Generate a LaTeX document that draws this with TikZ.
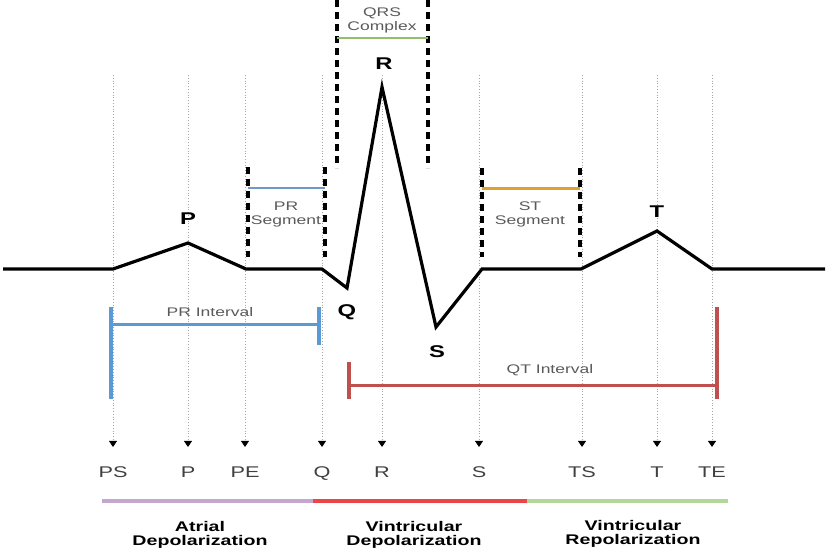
\documentclass[tikz,border=0pt]{standalone}
\usepackage{fontspec}
\setmainfont{Liberation Sans}
\newfontfamily\widefont[FakeStretch=1.4]{Liberation Sans}
\usetikzlibrary{arrows.meta}
\definecolor{ivblue}{HTML}{5B9BD5}
\definecolor{segblue}{HTML}{7196C9}
\definecolor{ivred}{HTML}{C0504D}
\definecolor{segorange}{HTML}{DFA12E}
\definecolor{qrsgreen}{HTML}{93BF6B}
\definecolor{barpurple}{HTML}{C3A7CD}
\definecolor{barred}{HTML}{EC4548}
\definecolor{bargreen}{HTML}{B3D69A}
\definecolor{txtgray}{HTML}{5A5A5A}
\begin{document}
\begin{tikzpicture}[x=1pt,y=-1pt,
  wave/.style={line width=3.2pt},
  guide/.style={gray!70,dotted,line width=0.8pt,shorten >=16pt,-{Triangle[width=8pt,length=6pt,color=black]}},
  segbar/.style={line width=3.5pt,dash pattern=on 7pt off 5pt},
  ptlabel/.style={font=\widefont\fontsize{15.5}{16}\selectfont,text=black!75,text height=11pt,text depth=0pt},
  peaklabel/.style={font=\widefont\bfseries\fontsize{17}{17}\selectfont},
  smalltext/.style={font=\widefont\fontsize{12.5}{14}\selectfont,text=txtgray,align=center},
  phasetext/.style={font=\widefont\bfseries\fontsize{14}{14}\selectfont,align=center}]
\useasboundingbox (0,0) rectangle (827,550);
\coordinate (tPS) at (113,75);
\coordinate (tP) at (188,75);
\coordinate (tPE) at (245,75);
\coordinate (tQ) at (322,75);
\coordinate (tR) at (382,75);
\coordinate (tS) at (479,75);
\coordinate (tTS) at (582,75);
\coordinate (tT) at (657,75);
\coordinate (tTE) at (712,75);
\node[ptlabel] (lPS) at (113,472) {PS};
\node[ptlabel] (lP) at (188,472) {P};
\node[ptlabel] (lPE) at (245,472) {PE};
\node[ptlabel] (lQ) at (322,472) {Q};
\node[ptlabel] (lR) at (382,472) {R};
\node[ptlabel] (lS) at (479,472) {S};
\node[ptlabel] (lTS) at (582,472) {TS};
\node[ptlabel] (lT) at (657,472) {T};
\node[ptlabel] (lTE) at (712,472) {TE};
\draw[guide] (tPS) -- (lPS.north);
\draw[guide] (tP) -- (lP.north);
\draw[guide] (tPE) -- (lPE.north);
\draw[guide] (tQ) -- (lQ.north);
\draw[guide] (tR) -- (lR.north);
\draw[guide] (tS) -- (lS.north);
\draw[guide] (tTS) -- (lTS.north);
\draw[guide] (tT) -- (lT.north);
\draw[guide] (tTE) -- (lTE.north);
\draw[wave] (3,269) -- (113,269) -- (188,243) -- (246,269) -- (322,269) -- (347,288) -- (382,87) -- (436,327) -- (482,269) -- (581,269) -- (657,231) -- (712,269) -- (825,269);
\draw[segbar] (248,167) -- (248,257);
\draw[segbar] (325,167) -- (325,257);
\draw[segbar] (482,168) -- (482,257);
\draw[segbar] (580,168) -- (580,257);
\draw[segbar] (337,0) -- (337,168);
\draw[segbar] (428,0) -- (428,168);
\draw[segblue,line width=2pt] (248,188) -- (325,188);
\draw[segorange,line width=3pt] (482,188) -- (580,188);
\draw[qrsgreen,line width=2.5pt] (337,38) -- (428,38);
\node[smalltext] (prseg) at (286,214) {PR\\Segment};
\node[smalltext] (stseg) at (530,214) {ST\\Segment};
\node[smalltext] (qrs) at (382,20) {QRS\\Complex};
\draw[ivblue,line width=4pt] (111,307) -- (111,399);
\draw[ivblue,line width=4pt] (319,307) -- (319,345);
\draw[ivblue,line width=3pt] (111,324) -- (319,324);
\node[smalltext] (print) at (210,312) {PR Interval};
\draw[ivred,line width=4pt] (349,362) -- (349,399);
\draw[ivred,line width=4pt] (717,307) -- (717,399);
\draw[ivred,line width=3pt] (349,385) -- (717,385);
\node[smalltext] (qtint) at (550,370) {QT Interval};
\node[peaklabel] (pkP) at (188,219) {P};
\node[peaklabel] (pkR) at (384,64) {R};
\node[peaklabel] (pkQ) at (347,312) {Q};
\node[peaklabel] (pkS) at (437,352) {S};
\node[peaklabel] (pkT) at (657,212) {T};
\draw[barpurple,line width=4pt] (102,501) -- (313,501);
\draw[barred,line width=4pt] (313,501) -- (527,501);
\draw[bargreen,line width=4pt] (527,501) -- (728,501);
\node[phasetext] (atrial) at (200,535) {Atrial\\Depolarization};
\node[phasetext] (vdep) at (414,535) {Vintricular\\Depolarization};
\node[phasetext] (vrep) at (633,534) {Vintricular\\Repolarization};
\end{tikzpicture}
\end{document}
